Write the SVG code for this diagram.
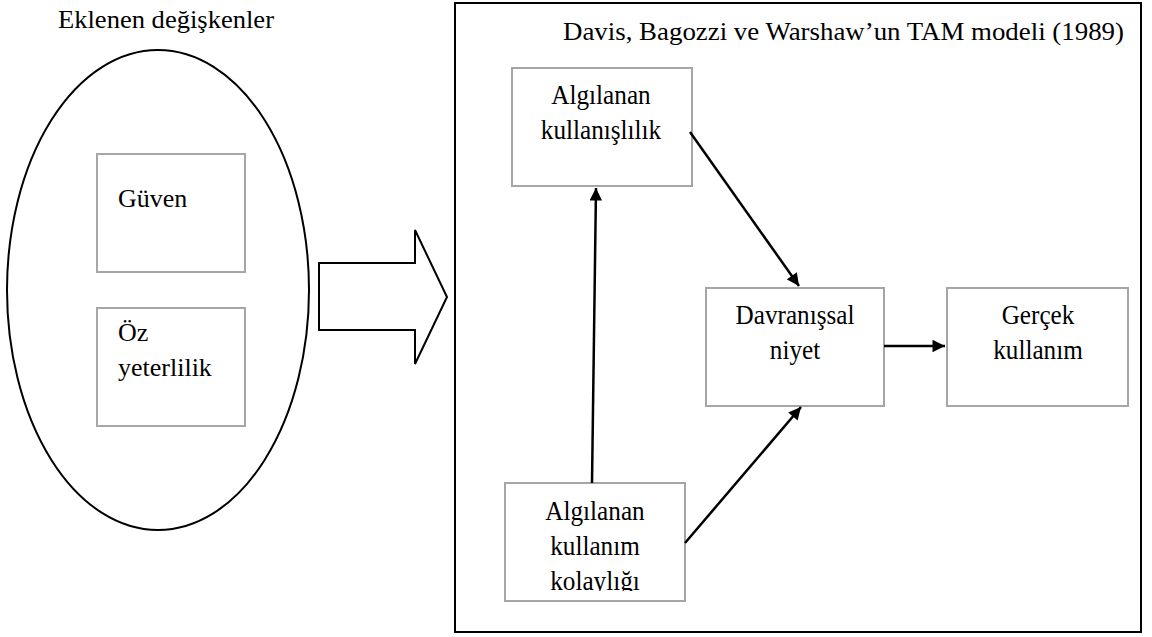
<svg xmlns="http://www.w3.org/2000/svg" width="1152" height="637" viewBox="0 0 1152 637">
  <style>
    .t { font-family: "Liberation Serif", "Times New Roman", serif; font-size: 26px; fill: #000; }
    .n { font-family: "Liberation Serif", "Times New Roman", serif; font-size: 28px; fill: #000; text-anchor: middle; }
    .box { fill: #fff; stroke: #a6a6a6; stroke-width: 2; }
    .edge { stroke: #000; stroke-width: 2.5; fill: none; marker-end: url(#head); }
  </style>
  <defs>
    <marker id="head" viewBox="0 0 10 10" refX="10" refY="5" markerWidth="5.4" markerHeight="5" markerUnits="strokeWidth" orient="auto">
      <path d="M0,0 L10,5 L0,10 Z" fill="#000"/>
    </marker>
    <clipPath id="clipEase">
      <rect x="505" y="483" width="180" height="108"/>
    </clipPath>
  </defs>

  <rect width="1152" height="637" fill="#fff"/>

  <!-- Added variables -->
  <g id="added-variables">
    <text class="t" x="58" y="28" textLength="216" lengthAdjust="spacingAndGlyphs">Eklenen değişkenler</text>
    <ellipse cx="158" cy="290" rx="151" ry="240" fill="none" stroke="#000" stroke-width="2"/>
  </g>
  <g id="guven">
    <rect class="box" x="97" y="154" width="148" height="118"/>
    <text class="t" x="118" y="207">Güven</text>
  </g>
  <g id="oz-yeterlilik">
    <rect class="box" x="97" y="308" width="148" height="118"/>
    <text class="t" x="118" y="341">Öz</text>
    <text class="t" x="118" y="376">yeterlilik</text>
  </g>

  <!-- Block arrow -->
  <g id="block-arrow">
    <path d="M319,263 H415 V230 L447,297 L415,364 V330 H319 Z" fill="#fff" stroke="#000" stroke-width="2" stroke-linejoin="miter"/>
  </g>

  <!-- TAM model frame -->
  <g id="tam-frame">
    <rect x="455" y="3" width="686" height="629" fill="none" stroke="#000" stroke-width="2"/>
    <text class="t" x="563" y="40" textLength="561" lengthAdjust="spacingAndGlyphs">Davis, Bagozzi ve Warshaw’un TAM modeli (1989)</text>
  </g>

  <g id="usefulness">
    <rect class="box" x="512" y="68" width="180" height="118"/>
    <text class="n" transform="translate(601,103.5) scale(0.9,1)">Algılanan</text>
    <text class="n" transform="translate(601,138.5) scale(0.9,1)">kullanışlılık</text>
  </g>
  <g id="intention">
    <rect class="box" x="706" y="288" width="178" height="118"/>
    <text class="n" transform="translate(795,323.5) scale(0.9,1)">Davranışsal</text>
    <text class="n" transform="translate(795,359) scale(0.9,1)">niyet</text>
  </g>
  <g id="actual-use">
    <rect class="box" x="947" y="288" width="181" height="118"/>
    <text class="n" transform="translate(1038,323.5) scale(0.9,1)">Gerçek</text>
    <text class="n" transform="translate(1038,359) scale(0.9,1)">kullanım</text>
  </g>
  <g id="ease-of-use">
    <rect class="box" x="505" y="483" width="180" height="118"/>
    <g clip-path="url(#clipEase)">
      <text class="n" transform="translate(595,519.5) scale(0.9,1)">Algılanan</text>
      <text class="n" transform="translate(595,554.5) scale(0.9,1)">kullanım</text>
      <text class="n" transform="translate(595,589.5) scale(0.9,1)">kolaylığı</text>
    </g>
  </g>

  <!-- Connectors -->
  <g id="connectors">
    <line class="edge" x1="592" y1="483" x2="596" y2="188"/>
    <line class="edge" x1="690" y1="132" x2="799" y2="286"/>
    <line class="edge" x1="685" y1="543" x2="801" y2="407"/>
    <line class="edge" x1="884" y1="346" x2="945" y2="346"/>
  </g>
</svg>
